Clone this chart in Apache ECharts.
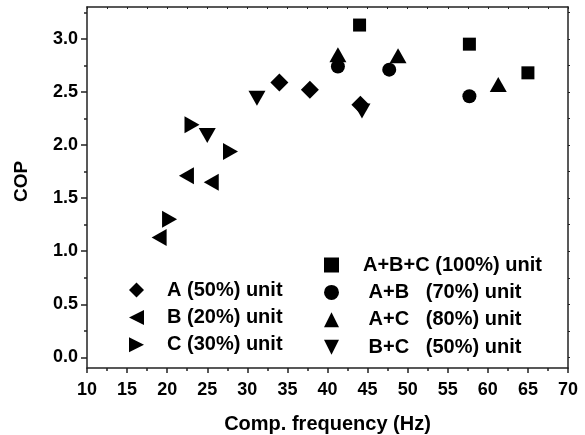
<!DOCTYPE html>
<html>
<head>
<meta charset="utf-8">
<script src="https://cdn.jsdelivr.net/npm/echarts@6/dist/echarts.min.js"></script>
<style>html,body{margin:0;padding:0;background:#fff;}#c{width:585px;height:435px;}</style>
</head>
<body>
<div id="c"></div>
<script>
// Data (x: compressor frequency in Hz, y: COP)
var seriesNames = ["A (50%) unit", "B (20%) unit", "C (30%) unit", "A+B+C (100%) unit", " A+B   (70%) unit", " A+C   (80%) unit", " B+C   (50%) unit"];
var dataA   = [[34.0, 2.59], [37.8, 2.52], [44.1, 2.38]];
var dataB   = [[19.0, 1.13], [22.4, 1.71], [25.5, 1.65]];
var dataC   = [[20.3, 1.30], [23.1, 2.19], [27.9, 1.94]];
var dataABC = [[44.0, 3.13], [57.7, 2.95], [65.0, 2.68]];
var dataAB  = [[41.3, 2.74], [47.7, 2.71], [57.7, 2.46]];
var dataAC  = [[41.3, 2.85], [48.8, 2.84], [61.3, 2.57]];
var dataBC  = [[25.0, 2.09], [31.2, 2.44], [44.3, 2.32]];
var yMajorTicks = [0, 0.5, 1.0, 1.5, 2.0, 2.5, 3.0];
var yMinorTicks = [0.25, 0.75, 1.25, 1.75, 2.25, 2.75, 3.25];
var yAllTicks = [0, 0.25, 0.5, 0.75, 1.0, 1.25, 1.5, 1.75, 2.0, 2.25, 2.5, 2.75, 3.0, 3.25];

var FONT = "'Liberation Sans', Arial, sans-serif";
var AX = '#222';
var chart = echarts.init(document.getElementById('c'), null, {renderer: 'canvas'});

var triLeft  = 'path://M10,0 L10,10 L0,5 Z';
var triRight = 'path://M0,0 L10,5 L0,10 Z';
var triDown  = 'path://M0,0 L10,0 L5,10 Z';

function sc(name, data, symbol, size) {
  return {
    type: 'scatter', name: name, data: data, symbol: symbol, symbolSize: size,
    itemStyle: {color: '#000', opacity: 1}, emphasis: {disabled: true}, xAxisIndex: 0, yAxisIndex: 0
  };
}

function legendText(pad) {
  return {fontFamily: FONT, fontWeight: 'bold', fontSize: 20, color: '#000', lineHeight: 22, padding: [0, 0, 0, pad]};
}

chart.setOption({
  animation: false,
  backgroundColor: '#fff',
  grid: {left: 87, right: 17, top: 7, bottom: 67, containLabel: false, outerBoundsMode: 'none'},
  legend: [
    {data: seriesNames.slice(0, 3), orient: 'vertical', left: 129, top: 279, padding: 0,
     itemWidth: 15, itemHeight: 15, itemGap: 5.4, textStyle: legendText(18), selectedMode: false,
     itemStyle: {opacity: 1}},
    {data: seriesNames.slice(3), orient: 'vertical', left: 324, top: 254, padding: 0,
     itemWidth: 15, itemHeight: 15, itemGap: 5.4, textStyle: legendText(19), selectedMode: false,
     itemStyle: {opacity: 1}}
  ],
  xAxis: [
    {type: 'value', min: 10, max: 70, interval: 5, position: 'bottom',
     name: 'Comp. frequency (Hz)', nameLocation: 'middle', nameGap: 46,
     nameTextStyle: {fontFamily: FONT, fontWeight: 'bold', fontSize: 20, color: '#000'},
     axisLine: {show: true, onZero: false, lineStyle: {color: AX, width: 1.5}},
     axisTick: {show: true, inside: false, length: 5, lineStyle: {color: AX, width: 1.5}},
     minorTick: {show: true, splitNumber: 2, length: 3, lineStyle: {color: AX, width: 1.5}},
     axisLabel: {fontFamily: FONT, fontWeight: 'bold', fontSize: 18, color: '#000', margin: 13},
     splitLine: {show: false}, minorSplitLine: {show: false}},
    {type: 'value', min: 10, max: 70, interval: 2.5, position: 'top',
     axisLine: {show: true, onZero: false, lineStyle: {color: AX, width: 1.5}},
     axisTick: {show: true, inside: true, length: 2, lineStyle: {color: AX, width: 1}},
     axisLabel: {show: false}, splitLine: {show: false}}
  ],
  yAxis: [
    {type: 'value', min: -0.1, max: 3.3, position: 'left',
     name: 'COP', nameLocation: 'middle', nameGap: 56,
     nameTextStyle: {fontFamily: FONT, fontWeight: 'bold', fontSize: 19, color: '#000', padding: [0, 0, 0, 12]},
     axisLine: {show: true, onZero: false, lineStyle: {color: AX, width: 1.5}},
     axisTick: {show: true, inside: false, length: 6, customValues: yMajorTicks, lineStyle: {color: AX, width: 1.5}},
     axisLabel: {fontFamily: FONT, fontWeight: 'bold', fontSize: 18, color: '#000', margin: 9,
                 customValues: yMajorTicks, formatter: function (v) { return Number(v).toFixed(1); }},
     splitLine: {show: false}},
    {type: 'value', min: -0.1, max: 3.3, position: 'left', offset: 0,
     axisLine: {show: false},
     axisTick: {show: true, inside: false, length: 3, customValues: yMinorTicks, lineStyle: {color: AX, width: 1.5}},
     axisLabel: {show: false}, splitLine: {show: false}},
    {type: 'value', min: -0.1, max: 3.3, position: 'right',
     axisLine: {show: true, onZero: false, lineStyle: {color: AX, width: 1.5}},
     axisTick: {show: true, inside: false, length: 2, customValues: yAllTicks, lineStyle: {color: AX, width: 1}},
     axisLabel: {show: false}, splitLine: {show: false}}
  ],
  series: [
    sc(seriesNames[0], dataA, 'diamond', [18, 18]),
    sc(seriesNames[1], dataB, triLeft, [15, 17]),
    sc(seriesNames[2], dataC, triRight, [15, 17]),
    sc(seriesNames[3], dataABC, 'rect', [13, 13]),
    sc(seriesNames[4], dataAB, 'circle', 14),
    sc(seriesNames[5], dataAC, 'triangle', [17, 15]),
    sc(seriesNames[6], dataBC, triDown, [17, 15])
  ]
});
</script>
</body>
</html>
